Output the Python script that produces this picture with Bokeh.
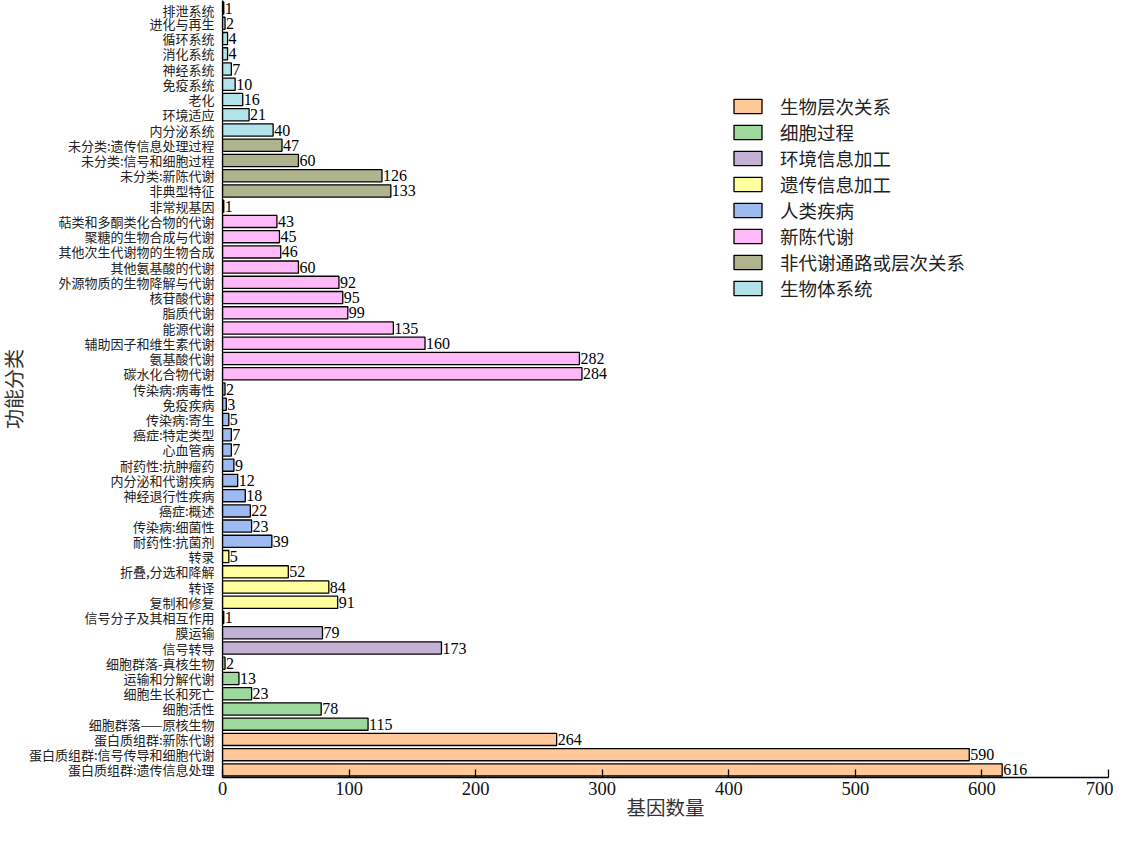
from bokeh.plotting import figure
from bokeh.models import ColumnDataSource, FactorRange, Range1d, FixedTicker, Legend, LegendItem
from bokeh.embed import file_html
from bokeh.resources import INLINE
from bokeh.core.properties import value

# categories listed top-to-bottom as in the chart
categories = [
    "排泄系统", "进化与再生", "循环系统", "消化系统", "神经系统", "免疫系统", "老化", "环境适应", "内分泌系统",
    "未分类:遗传信息处理过程", "未分类:信号和细胞过程", "未分类:新陈代谢", "非典型特征",
    "非常规基因", "萜类和多酮类化合物的代谢", "聚糖的生物合成与代谢", "其他次生代谢物的生物合成",
    "其他氨基酸的代谢", "外源物质的生物降解与代谢", "核苷酸代谢", "脂质代谢", "能源代谢",
    "辅助因子和维生素代谢", "氨基酸代谢", "碳水化合物代谢",
    "传染病:病毒性", "免疫疾病", "传染病:寄生", "癌症:特定类型", "心血管病", "耐药性:抗肿瘤药",
    "内分泌和代谢疾病", "神经退行性疾病", "癌症:概述", "传染病:细菌性", "耐药性:抗菌剂",
    "转录", "折叠,分选和降解", "转译", "复制和修复",
    "信号分子及其相互作用", "膜运输", "信号转导",
    "细胞群落-真核生物", "运输和分解代谢", "细胞生长和死亡", "细胞活性", "细胞群落——原核生物",
    "蛋白质组群:新陈代谢", "蛋白质组群:信号传导和细胞代谢", "蛋白质组群:遗传信息处理",
]
values = [
    1, 2, 4, 4, 7, 10, 16, 21, 40,
    47, 60, 126, 133,
    1, 43, 45, 46,
    60, 92, 95, 99, 135,
    160, 282, 284,
    2, 3, 5, 7, 7, 9,
    12, 18, 22, 23, 39,
    5, 52, 84, 91,
    1, 79, 173,
    2, 13, 23, 78, 115,
    264, 590, 616,
]
groups = (
    ["生物体系统"] * 9
    + ["非代谢通路或层次关系"] * 4
    + ["新陈代谢"] * 12
    + ["人类疾病"] * 11
    + ["遗传信息加工"] * 4
    + ["环境信息加工"] * 3
    + ["细胞过程"] * 5
    + ["生物层次关系"] * 3
)
legend_order = ["生物层次关系", "细胞过程", "环境信息加工", "遗传信息加工", "人类疾病", "新陈代谢", "非代谢通路或层次关系", "生物体系统"]
group_colors = ["#FFC896", "#9ED89C", "#C3B1D6", "#FFFF9E", "#9DBBF0", "#FFB8F8", "#B0B48E", "#B2E3E8"]
x_ticks = [0, 100, 200, 300, 400, 500, 600, 700]
x_title = "基因数量"
y_title = "功能分类"

CJK = "'Noto Sans CJK SC'"
MIX = "'Liberation Serif', 'Noto Sans CJK SC'"

p = figure(
    width=1113, height=827,
    y_range=FactorRange(*list(reversed(categories)), range_padding=0),
    x_range=Range1d(0, 700),
    output_backend="svg", toolbar_location=None,
    min_border_left=200, min_border_right=5, min_border_top=0, min_border_bottom=50,
)
p.outline_line_color = None
p.xgrid.grid_line_color = None
p.ygrid.grid_line_color = None
p.background_fill_color = "white"

items = []
for g, c in zip(legend_order, group_colors):
    idx = [i for i, gg in enumerate(groups) if gg == g]
    src = ColumnDataSource(dict(cat=[categories[i] for i in idx], val=[values[i] for i in idx]))
    r = p.hbar(y="cat", right="val", left=0, height=0.8, source=src,
               fill_color=c, line_color="black", line_width=1.3)
    items.append(LegendItem(label=g, renderers=[r]))

lab_src = ColumnDataSource(dict(cat=categories, val=values, txt=[str(v) for v in values]))
p.text(x="val", y="cat", text="txt", source=lab_src, x_offset=1, text_baseline="middle",
       text_align="left", text_font=value("Liberation Serif"), text_font_size="16px", text_color="black")

legend = Legend(items=items, location=(508, 476))
legend.label_text_font = CJK
legend.label_text_font_size = "18.5px"
legend.label_text_color = "#222222"
legend.glyph_width = 35
legend.glyph_height = 18
legend.label_height = 20
legend.spacing = 0
legend.label_standoff = 15
legend.border_line_color = None
legend.background_fill_alpha = 0
legend.padding = 0
legend.margin = 0
p.add_layout(legend, "center")

xa = p.xaxis[0]
xa.ticker = FixedTicker(ticks=x_ticks)
xa.major_tick_in = 8
xa.major_tick_out = 0
xa.minor_tick_line_color = None
xa.axis_line_width = 1.3
xa.major_tick_line_width = 1.3
xa.major_label_text_font = "Liberation Serif"
xa.major_label_text_font_size = "18.5px"
xa.major_label_text_color = "#111111"
xa.major_label_standoff = 4
xa.axis_label = x_title
xa.axis_label_text_font = MIX
xa.axis_label_text_font_size = "19.5px"
xa.axis_label_text_font_style = "normal"
xa.axis_label_text_color = "#333333"
xa.axis_label_standoff = 0

ya = p.yaxis[0]
ya.major_tick_in = 0
ya.major_tick_out = 0
ya.minor_tick_line_color = None
ya.axis_line_width = 1.3
ya.major_label_text_font = CJK
ya.major_label_text_font_size = "13px"
ya.major_label_text_color = "#222222"
ya.major_label_standoff = 8
ya.axis_label = y_title
ya.axis_label_text_font = MIX
ya.axis_label_text_font_size = "20px"
ya.axis_label_text_font_style = "normal"
ya.axis_label_text_color = "#333333"
ya.axis_label_standoff = 0

open("out.html", "w").write(file_html(p, INLINE))
